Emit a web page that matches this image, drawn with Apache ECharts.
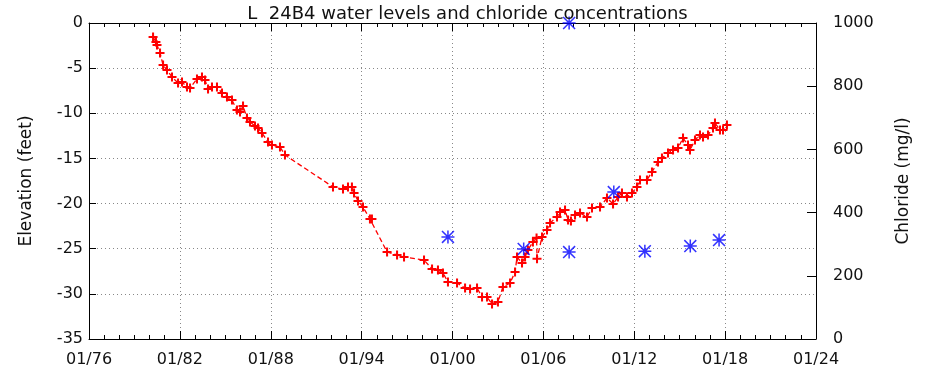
<!DOCTYPE html>
<html>
<head>
<meta charset="utf-8">
<script src="https://cdn.jsdelivr.net/npm/echarts@6/dist/echarts.min.js"></script>
<style>
  html, body { margin: 0; padding: 0; background: #fff; }
  #chart { width: 935px; height: 375px; }
</style>
</head>
<body>
<div id="chart"></div>
<script>
// water levels (decimal year, feet)
const wlYears = [
  1980.23, 1980.42, 1980.49, 1980.69, 1980.89, 1981.15, 1981.48, 1981.88, 1982.14, 1982.47,
  1982.67, 1983.13, 1983.46, 1983.66, 1983.86, 1984.12, 1984.45, 1984.78, 1985.11, 1985.44,
  1985.77, 1985.97, 1986.17, 1986.43, 1986.63, 1986.96, 1987.16, 1987.42, 1987.82, 1988.08,
  1988.61, 1988.94, 1992.11, 1992.77, 1993.10, 1993.36, 1993.50, 1993.76, 1994.09, 1994.55,
  1994.68, 1995.68, 1996.34, 1996.80, 1998.12, 1998.65, 1999.04, 1999.37, 1999.70, 2000.30,
  2000.83, 2001.16, 2001.62, 2001.95, 2002.28, 2002.61, 2003.00, 2003.33, 2003.80, 2004.13,
  2004.26, 2004.59, 2004.79, 2004.98, 2005.31, 2005.55, 2005.58, 2005.91, 2006.24, 2006.44,
  2006.90, 2007.10, 2007.43, 2007.63, 2007.82, 2008.09, 2008.42, 2008.88, 2009.21, 2009.74,
  2010.20, 2010.60, 2010.93, 2011.19, 2011.52, 2011.85, 2012.18, 2012.38, 2012.84, 2013.17,
  2013.57, 2013.83, 2014.23, 2014.56, 2014.89, 2015.22, 2015.55, 2015.68, 2016.01, 2016.34,
  2016.54, 2016.87, 2017.20, 2017.33, 2017.66, 2017.86, 2018.12
];
const wlElev = [
  -1.55, -2.10, -2.44, -3.32, -4.65, -5.21, -5.98, -6.65, -6.53, -7.09,
  -7.20, -6.20, -5.98, -6.31, -7.31, -7.09, -7.09, -7.75, -8.20, -8.53,
  -9.64, -9.86, -9.19, -10.52, -10.96, -11.41, -11.63, -12.18, -13.18, -13.51,
  -13.73, -14.62, -18.16, -18.39, -18.16, -18.16, -18.83, -19.71, -20.38, -21.71,
  -21.71, -25.36, -25.69, -25.92, -26.25, -27.25, -27.36, -27.69, -28.68, -28.80,
  -29.35, -29.46, -29.35, -30.35, -30.35, -31.12, -30.90, -29.24, -28.80, -27.58,
  -25.92, -26.58, -25.92, -25.14, -24.26, -23.80, -26.10, -23.70, -22.93, -22.15,
  -21.49, -20.93, -20.71, -21.82, -21.93, -21.26, -21.04, -21.49, -20.49, -20.38,
  -19.38, -20.05, -19.27, -18.83, -19.27, -18.83, -18.16, -17.39, -17.39, -16.50,
  -15.39, -14.95, -14.40, -14.07, -13.84, -12.74, -13.51, -14.07, -12.96, -12.40,
  -12.63, -12.40, -11.63, -11.08, -11.85, -11.85, -11.30
];

// chloride samples (decimal year, mg/l)
const clYears = [1999.7, 2004.7, 2007.7, 2007.7, 2010.65, 2012.7, 2015.7, 2017.6];
const clValues = [323, 285, 1000, 275, 465, 278, 294, 313];

const startYear = 1976;
const xTicks = ['01/76', '01/82', '01/88', '01/94', '01/00', '01/06', '01/12', '01/18', '01/24'];

const plusSymbol = 'path://M3.1,0h1.8v3.1h3.1v1.8h-3.1v3.1h-1.8v-3.1h-3.1v-1.8h3.1z';
const starSymbol = 'path://M0,5.3h12v1.4h-12z M5.3,0h1.4v12h-1.4z M1,0L12,11L11,12L0,1z M11,0L12,1L1,12L0,11z';

const font = 'DejaVu Sans';
const frame = { show: true, onZero: false, lineStyle: { color: '#000', width: 1 } };
const dotted = { show: true, lineStyle: { color: '#888', width: 1, type: [1, 3] } };

const chart = echarts.init(document.getElementById('chart'));

chart.setOption({
  animation: false,
  title: {
    text: 'L  24B4 water levels and chloride concentrations',
    left: 'center',
    top: 0,
    textStyle: { fontFamily: font, fontSize: 18, fontWeight: 'normal', color: '#111' }
  },
  grid: { left: 89, right: 119, top: 23, bottom: 36 },
  xAxis: [{
    type: 'value',
    min: 0, max: 48, interval: 6,
    axisLine: frame,
    axisTick: { inside: true, length: 8, lineStyle: { color: '#000' } },
    minorTick: { show: true, splitNumber: 6, length: 4, lineStyle: { color: '#000' } },
    splitLine: dotted,
    axisLabel: {
      fontFamily: font, fontSize: 16, color: '#111', margin: 13,
      formatter: v => xTicks[Math.round(v / 6)]
    }
  }, {
    type: 'value',
    position: 'top',
    min: 0, max: 48, interval: 6,
    axisLine: frame,
    axisTick: { inside: true, length: 8, lineStyle: { color: '#000' } },
    minorTick: { show: true, splitNumber: 6, length: 4, lineStyle: { color: '#000' } },
    splitLine: { show: false },
    axisLabel: { show: false }
  }],
  yAxis: [{
    type: 'value',
    min: -35, max: 0, interval: 5,
    name: 'Elevation (feet)',
    nameLocation: 'middle',
    nameGap: 54,
    nameTextStyle: { fontFamily: font, fontSize: 17, color: '#111' },
    axisLine: frame,
    axisTick: { inside: true, length: 7, lineStyle: { color: '#000' } },
    splitLine: dotted,
    axisLabel: { fontFamily: font, fontSize: 16, color: '#111', margin: 6 }
  }, {
    type: 'value',
    position: 'right',
    min: 0, max: 1000, interval: 200,
    name: 'Chloride (mg/l)',
    nameLocation: 'middle',
    nameRotate: 90,
    nameGap: 79,
    nameTextStyle: { fontFamily: font, fontSize: 17, color: '#111' },
    axisLine: frame,
    axisTick: { inside: true, length: 9, lineStyle: { color: '#000' } },
    splitLine: { show: false },
    axisLabel: { fontFamily: font, fontSize: 16, color: '#111', margin: 17, formatter: v => String(v) }
  }],
  series: [{
    name: 'Water level',
    type: 'line',
    xAxisIndex: 0,
    yAxisIndex: 0,
    data: wlYears.map((y, i) => [y - startYear, wlElev[i]]),
    symbol: plusSymbol,
    symbolSize: 9,
    showAllSymbol: true,
    itemStyle: { color: '#ff0000' },
    lineStyle: { color: '#ff0000', width: 1.3, type: [5, 3] },
    z: 3
  }, {
    name: 'Chloride',
    type: 'scatter',
    xAxisIndex: 0,
    yAxisIndex: 1,
    data: clYears.map((y, i) => [y - startYear, clValues[i]]),
    symbol: starSymbol,
    symbolSize: 13,
    itemStyle: { color: '#0000ff' },
    z: 4
  }]
});
</script>
</body>
</html>
